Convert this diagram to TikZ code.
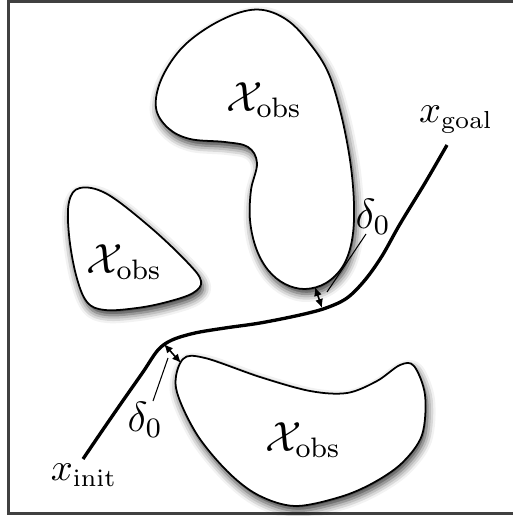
\documentclass[tikz,border=0pt]{standalone}
\usepackage{amssymb}
\usetikzlibrary{arrows.meta,shadows.blur}

\begin{document}
\begin{tikzpicture}[x=0.01cm,y=-0.01cm,
			frame/.style={draw=black!75,line width=0.6pt},
			obst/.style={draw=black,line width=0.5pt,fill=white,
				blur shadow={shadow xshift=0.2mm,shadow yshift=-0.5mm,shadow blur radius=0.8mm,shadow opacity=80}},
			traj/.style={draw=black,line width=0.95pt},
			gap/.style={{Latex[length=0.9mm,width=0.8mm]}-{Latex[length=0.9mm,width=0.8mm]},draw=black,line width=0.45pt},
			lead/.style={draw=black,line width=0.3pt},
			obslbl/.style={font=\large,inner sep=0pt},
			lbl/.style={font=\fontsize{10.6}{12}\selectfont,inner sep=0pt},
			dlbl/.style={font=\large,inner sep=0pt}]
			\useasboundingbox (0,0) rectangle (512,516);
			\draw[frame] (530,1.5) -- (8.5,1.5) -- (8.5,513.5) -- (530,513.5);
			%% obstacles
			\path[obst] plot[smooth cycle,tension=0.6] coordinates {(263,10) (287,20) (307,40) (327,70) (340,110) (350,160) (354,205) (352,240) (343,266) (326,283) (305,289) (285,284) (268,270) (256,248) (250,220) (251,190) (257,163) (248,147) (225,142) (190,139) (168,128) (156,108) (161,80) (180,50) (207,28) (238,13)};
			\path[obst] plot[smooth cycle,tension=0.6] coordinates {(80,188) (107,194) (150,227) (187,262) (201,281) (193,293) (167,302) (137,308) (105,310) (87,302) (76,275) (69,235) (69,202)};
			\path[obst] plot[smooth cycle,tension=0.55] coordinates {(183,359) (205,358) (260,377) (310,391) (347,393) (377,381) (400,365) (414,366) (425,395) (422,435) (402,463) (373,483) (340,497) (295,506) (258,495) (227,471) (196,433) (176,388)};
			\node[obslbl] (obs1) at (264,100) {$\mathcal{X}_{\mathrm{obs}}$};
			\node[obslbl] (obs2) at (124,262) {$\mathcal{X}_{\mathrm{obs}}$};
			\node[obslbl] (obs3) at (303,440) {$\mathcal{X}_{\mathrm{obs}}$};
			%% trajectory
			\coordinate (init) at (83,459);
			\coordinate (goal) at (447,145);
			\draw[traj] plot[smooth,tension=0.55] coordinates {(init) (102,431) (122,402) (143,372) (158,350) (172,340) (195,333) (225,328) (260,323) (300,315) (326,308) (347,298) (365,280) (382,256) (400,224) (425,183) (goal)};
			\node[lbl,anchor=north] (xinit) at (84,463) {$x_{\mathrm{init}}$};
			\node[lbl,anchor=south] (xgoal) at (456,134) {$x_{\mathrm{goal}}$};
			%% clearances
			\coordinate (c1a) at (315,287);
			\coordinate (c1b) at (322,308);
			\draw[gap] (c1a) -- (c1b);
			\node[dlbl] (d1) at (373,217) {$\delta_0$};
			\coordinate (l1a) at (327,292);
			\coordinate (l1b) at (366,234);
			\draw[lead] (l1a) -- (l1b);
			\coordinate (c2a) at (164,344);
			\coordinate (c2b) at (181,363);
			\draw[gap] (c2a) -- (c2b);
			\node[dlbl] (d2) at (145,420) {$\delta_0$};
			\coordinate (l2a) at (168,358);
			\coordinate (l2b) at (153,401);
			\draw[lead] (l2a) -- (l2b);
		\end{tikzpicture}
\end{document}
